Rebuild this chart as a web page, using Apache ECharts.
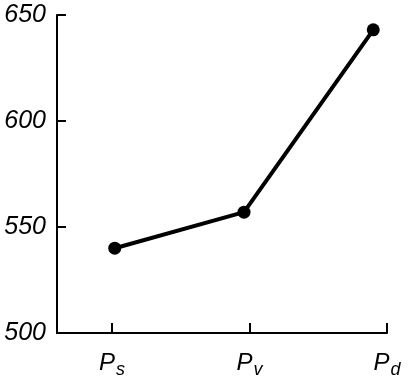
<!DOCTYPE html>
<html>
<head>
<meta charset="utf-8">
<script src="https://cdn.jsdelivr.net/npm/echarts@6/dist/echarts.min.js"></script>
<style>
  html, body { margin: 0; padding: 0; background: #fff; }
  #chart { width: 409px; height: 379px; }
</style>
</head>
<body>
<div id="chart"></div>
<script>
// categories, tick spots on the x axis, and where each point sits
var categories = ['s', 'v', 'd']
var tickPos = [0.4, 1.4, 2.4]
var pointX = [0.42, 1.36, 2.3]
var values = [540, 557, 643]

var chart = echarts.init(document.getElementById('chart'))

var seriesData = []
for (var i = 0; i < values.length; i++) {
  seriesData.push([pointX[i], values[i]])
}

chart.setOption({
  animation: false,
  grid: { left: 57, right: 22, top: 15, bottom: 44 },
  xAxis: {
    type: 'value',
    min: 0,
    max: 2.4,
    splitLine: { show: false },
    axisLine: { lineStyle: { color: '#000', width: 2 } },
    axisTick: {
      customValues: tickPos,
      inside: true,
      length: 10,
      lineStyle: { color: '#000', width: 2 }
    },
    axisLabel: {
      customValues: tickPos,
      margin: 14,
      formatter: function (v) {
        var idx = tickPos.indexOf(v)
        return '{p|P}{s|' + categories[idx] + '}'
      },
      rich: {
        p: { fontFamily: 'Liberation Sans', fontStyle: 'italic', fontSize: 24, color: '#000' },
        s: { fontFamily: 'Liberation Sans', fontStyle: 'italic', fontSize: 18, color: '#000', padding: [14, 0, 0, 1] }
      }
    }
  },
  yAxis: {
    type: 'value',
    min: 500,
    max: 650,
    interval: 50,
    splitLine: { show: false },
    axisLine: { show: true, lineStyle: { color: '#000', width: 2 } },
    axisTick: {
      inside: true,
      length: 9,
      lineStyle: { color: '#000', width: 2 }
    },
    axisLabel: {
      margin: 11,
      fontFamily: 'Liberation Sans',
      fontStyle: 'italic',
      fontSize: 25,
      color: '#000'
    }
  },
  series: [{
    type: 'line',
    data: seriesData,
    symbol: 'circle',
    symbolSize: 13,
    lineStyle: { color: '#000', width: 4 },
    itemStyle: { color: '#000' }
  }]
})
</script>
</body>
</html>
